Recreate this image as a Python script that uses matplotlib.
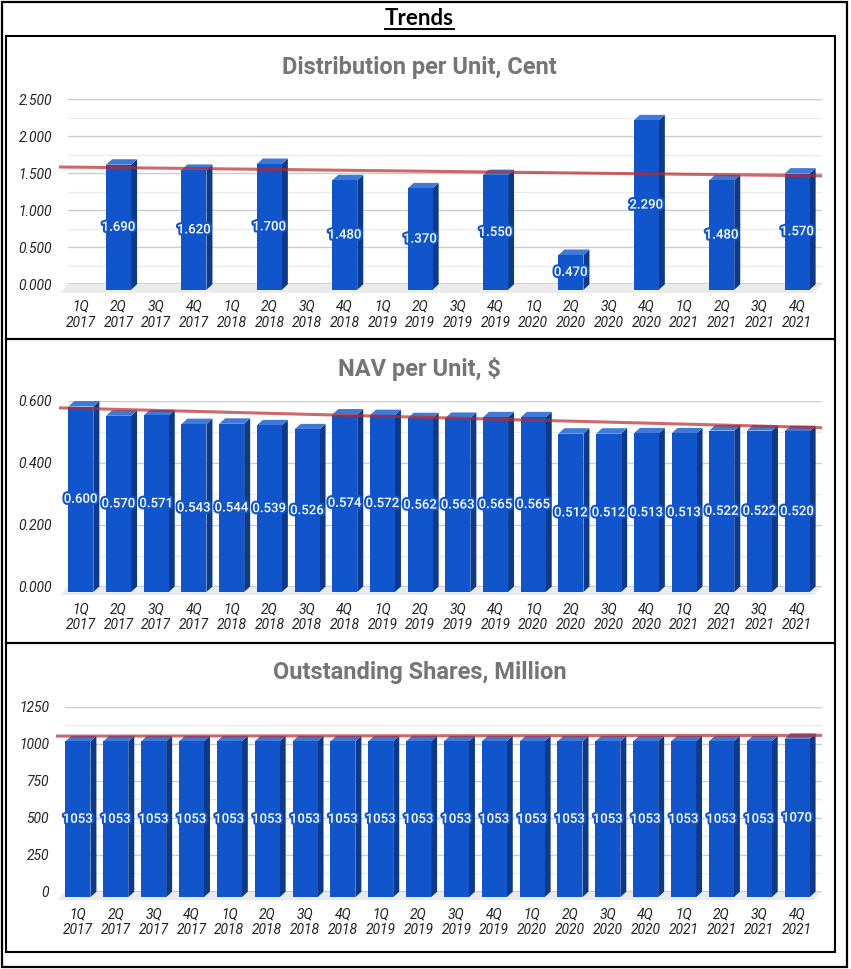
"""Trends: three 3D-style column charts (distribution, NAV, outstanding shares)."""

import matplotlib

matplotlib.use("Agg")
import matplotlib.pyplot as plt
import matplotlib.patheffects as pe
import numpy as np
from matplotlib.patches import Polygon, Rectangle

W, H = 851, 969

QUARTERS = [
    "1Q\n2017", "2Q\n2017", "3Q\n2017", "4Q\n2017",
    "1Q\n2018", "2Q\n2018", "3Q\n2018", "4Q\n2018",
    "1Q\n2019", "2Q\n2019", "3Q\n2019", "4Q\n2019",
    "1Q\n2020", "2Q\n2020", "3Q\n2020", "4Q\n2020",
    "1Q\n2021", "2Q\n2021", "3Q\n2021", "4Q\n2021",
]
NAN = float("nan")
DISTRIBUTION = [NAN, 1.690, NAN, 1.620, NAN, 1.700, NAN, 1.480, NAN, 1.370,
                NAN, 1.550, NAN, 0.470, NAN, 2.290, NAN, 1.480, NAN, 1.570]
NAV = [0.600, 0.570, 0.571, 0.543, 0.544, 0.539, 0.526, 0.574, 0.572, 0.562,
       0.563, 0.565, 0.565, 0.512, 0.512, 0.513, 0.513, 0.522, 0.522, 0.520]
SHARES = [1053, 1053, 1053, 1053, 1053, 1053, 1053, 1053, 1053, 1053,
          1053, 1053, 1053, 1053, 1053, 1053, 1053, 1053, 1053, 1070]

FRONT = "#1155cc"
TOP = "#3f7ad9"
SIDE = "#0b3a8c"
FLOOR = "#ebebeb"
TREND = (0.72, 0.16, 0.16)

plt.rcParams["font.family"] = ["Roboto", "DejaVu Sans"]

fig = plt.figure(figsize=(W / 100, H / 100), dpi=100)

# pixel-space overlay for frames and headings
ov = fig.add_axes([0, 0, 1, 1], zorder=10)
ov.set_xlim(0, W)
ov.set_ylim(H, 0)
ov.axis("off")
ov.patch.set_alpha(0)

ov.add_patch(Rectangle((1.5, 1.5), 845, 965.5, fill=False, lw=1.6, ec="black"))
for top, bot in [(36, 338.5), (338.5, 643), (643, 952)]:
    ov.add_patch(Rectangle((5.5, top), 829.5, bot - top, fill=False, lw=1.5, ec="black"))

t = ov.text(419, 18, "Trends", ha="center", va="center", fontsize=16,
            fontweight="bold", family=["Lato", "DejaVu Sans"], color="black")
fig.canvas.draw()
bb = t.get_window_extent().transformed(ov.transData.inverted())
ov.plot([bb.x0, bb.x1], [28.5, 28.5], color="black", lw=1.4)

panels = [
    dict(title="Distribution per Unit, Cent", vals=DISTRIBUTION, ymax=2.5, step=0.5,
         fmt="{:.3f}", box=(68, 99.3, 822, 284.3), title_y=67),
    dict(title="NAV per Unit, $", vals=NAV, ymax=0.6, step=0.2,
         fmt="{:.3f}", box=(68, 401, 822, 586.5), title_y=369),
    dict(title="Outstanding Shares, Million", vals=SHARES, ymax=1250, step=250,
         fmt="{:.0f}", box=(65, 706.7, 822, 891.7), title_y=673),
]

for p in panels:
    l, tp, r, b = p["box"]
    ax = fig.add_axes([l / W, 1 - b / H, (r - l) / W, (b - tp) / H])
    vals = np.array(p["vals"], dtype=float)
    n = len(vals)
    ymax = p["ymax"]
    ax.set_xlim(-0.5, n - 0.5)
    ax.set_ylim(0, ymax)
    for s in ax.spines.values():
        s.set_visible(False)
    ax.patch.set_alpha(0)

    sx = n / (r - l)
    sy = ymax / (b - tp)
    dx, dy = 6 * sx, 5.5 * sy
    bw = 25 * sx

    major = np.arange(0, ymax + 1e-9, p["step"])
    minor = np.arange(p["step"] / 2, ymax, p["step"])
    ax.set_yticks(major)
    ax.set_yticks(minor, minor=True)
    ax.set_yticklabels([p["fmt"].format(v) for v in major])
    ax.set_xticks([])
    ax.tick_params(axis="y", which="both", length=0, pad=11.5, labelsize=10,
                   labelcolor="#222222")
    for lab in ax.get_yticklabels():
        lab.set_fontstyle("italic")
    ax.grid(axis="y", which="major", color="#cccccc", lw=1)
    ax.grid(axis="y", which="minor", color="#ebebeb", lw=1)
    ax.set_axisbelow(True)

    # floor and baseline
    fdx, fdy = 8 * sx, 8.5 * sy
    ax.add_patch(Polygon([(-0.5, 0), (n - 0.5, 0), (n - 0.5 - fdx, -fdy), (-0.5 - fdx, -fdy)],
                         closed=True, fc=FLOOR, ec="none", clip_on=False, zorder=1))
    ax.axhline(0, color="#333333", lw=1, zorder=1.5)

    for i, v in enumerate(vals):
        if np.isnan(v):
            continue
        x0, x1 = i - bw / 2, i + bw / 2
        side = [(x1 - dx, -dy), (x1, 0), (x1, v), (x1 - dx, v - dy)]
        top = [(x0 - dx, v - dy), (x1 - dx, v - dy), (x1, v), (x0, v)]
        front = [(x0 - dx, -dy), (x1 - dx, -dy), (x1 - dx, v - dy), (x0 - dx, v - dy)]
        for poly, col in [(side, SIDE), (top, TOP), (front, FRONT)]:
            ax.add_patch(Polygon(poly, closed=True, fc=col, ec="none", clip_on=False, zorder=3))
        ax.text(i - dx, v / 2 - dy, p["fmt"].format(v), ha="center", va="center",
                color="white", fontsize=9.5, fontweight="medium", zorder=6,
                path_effects=[pe.withStroke(linewidth=3, foreground=FRONT)])

    # linear trendline
    xs = np.arange(n)
    ok = ~np.isnan(vals)
    k, c = np.polyfit(xs[ok], vals[ok], 1)
    tx = np.array([-0.5 - 9 * sx, n - 0.5])
    ax.plot(tx, k * tx + c, color=TREND, alpha=0.7, lw=2.2, zorder=4, clip_on=False,
            solid_capstyle="butt")

    for i, q in enumerate(QUARTERS):
        ax.text(i - dx, -30.5 * sy, q, ha="center", va="center", fontsize=10,
                fontstyle="italic", color="#222222", linespacing=1.2)

    ov.text(419.5, p["title_y"], p["title"], ha="center", va="center", fontsize=17,
            fontweight="bold", color="#757575")

fig.savefig("out.png", dpi=100)
